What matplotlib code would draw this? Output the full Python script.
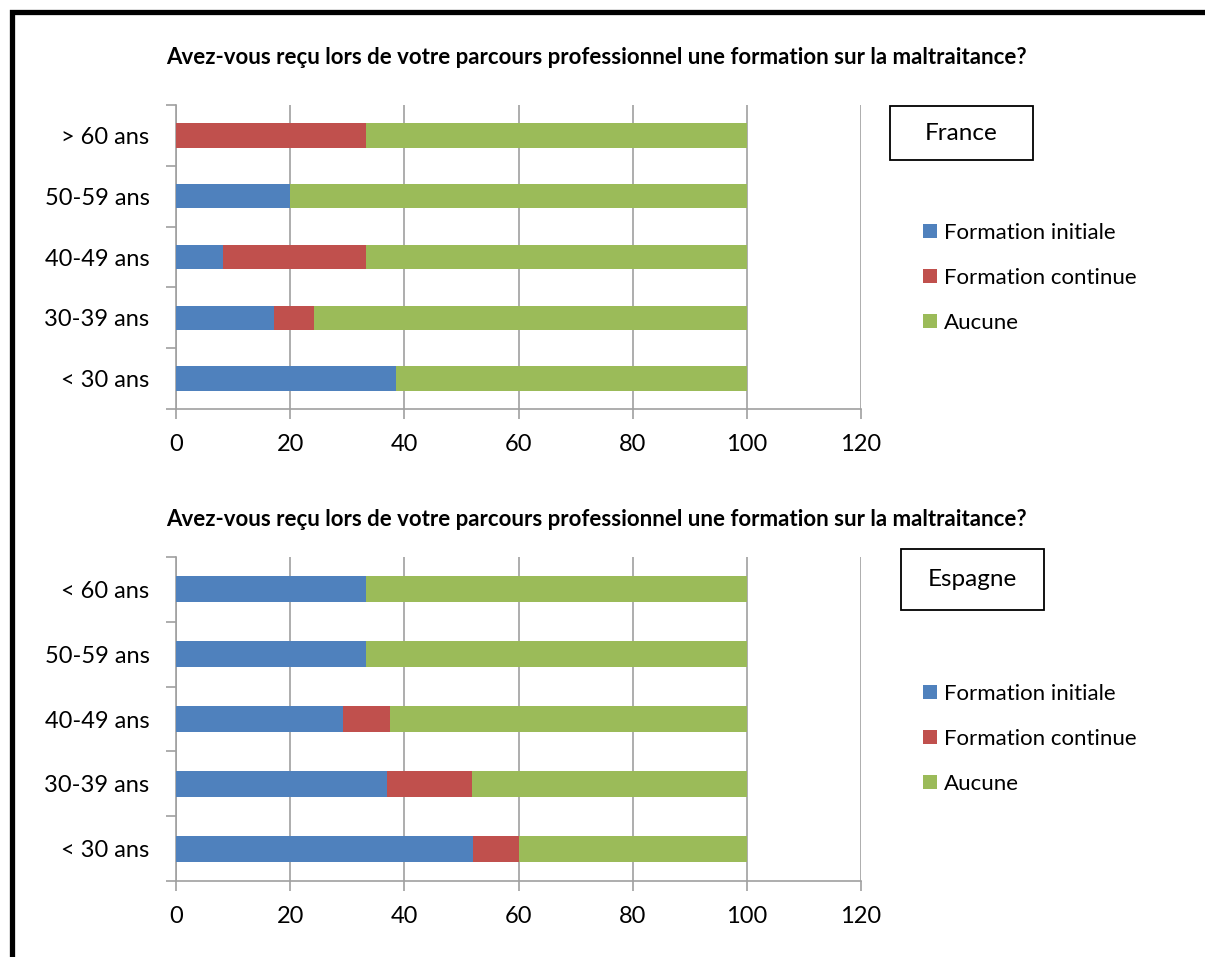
import matplotlib
matplotlib.use("Agg")
import matplotlib.pyplot as plt
from matplotlib.patches import Rectangle
import numpy as np

plt.rcParams["font.family"] = ["Lato", "DejaVu Sans"]

TITLE = "Avez-vous reçu lors de votre parcours professionnel une formation sur la maltraitance?"
SERIES = ["Formation initiale", "Formation continue", "Aucune"]
COLORS = ["#4F81BD", "#C0504D", "#9BBB59"]

# bottom to top
france_ages = ["< 30 ans", "30-39 ans", "40-49 ans", "50-59 ans", "> 60 ans"]
france_initiale = [38.5, 17.2, 8.3, 20.0, 0.0]
france_continue = [0.0, 6.9, 25.0, 0.0, 33.3]
france_aucune = [61.5, 75.9, 66.7, 80.0, 66.7]

espagne_ages = ["< 30 ans", "30-39 ans", "40-49 ans", "50-59 ans", "< 60 ans"]
espagne_initiale = [52.0, 37.0, 29.2, 33.3, 33.3]
espagne_continue = [8.0, 14.8, 8.3, 0.0, 0.0]
espagne_aucune = [40.0, 48.2, 62.5, 66.7, 66.7]

GRAY = "#A0A0A0"
W, H = 1205, 957


def fx(px):
    return px / W


def fy(py):
    return 1 - py / H


def draw_panel(fig, rect, ages, values, title_y, box, legend_y, country):
    ax = fig.add_axes(rect)
    y = np.arange(len(ages))
    left = np.zeros(len(ages))
    for vals, col, lab in zip(values, COLORS, SERIES):
        ax.barh(y, vals, left=left, height=0.4, color=col, label=lab,
                edgecolor="none", zorder=3)
        left = left + np.array(vals)
    ax.set_xlim(0, 120)
    ax.set_ylim(-0.5, len(ages) - 0.5)
    ax.set_xticks(np.arange(0, 121, 20))
    ax.set_yticks(y)
    ax.set_yticklabels(ages)
    ax.set_yticks(np.arange(-0.5, len(ages)), minor=True)
    ax.tick_params(axis="y", which="major", length=0, labelsize=17, pad=19)
    ax.tick_params(axis="y", which="minor", length=7, width=1.2, color=GRAY)
    ax.tick_params(axis="x", length=7, width=1.2, color=GRAY, labelsize=17, pad=11)
    ax.grid(axis="x", color=GRAY, linewidth=1.2, zorder=0)
    for s in ["top", "right"]:
        ax.spines[s].set_visible(False)
    for s in ["left", "bottom"]:
        ax.spines[s].set_color(GRAY)
        ax.spines[s].set_linewidth(1.2)

    fig.text(fx(596), fy(title_y), TITLE, ha="center", va="center",
             fontsize=16, fontweight="bold")

    x0, y0, x1, y1 = box
    fig.patches.append(Rectangle((fx(x0), fy(y1)), fx(x1 - x0), (y1 - y0) / H,
                                 transform=fig.transFigure, fill=False,
                                 edgecolor="black", linewidth=1.3))
    fig.text(fx((x0 + x1) / 2), fy((y0 + y1) / 2), country, ha="center",
             va="center", fontsize=17.5)

    ax.legend(loc="upper left", bbox_to_anchor=(fx(903), fy(legend_y)),
              bbox_transform=fig.transFigure, frameon=False, fontsize=16,
              handlelength=0.63, handleheight=0.63, handletextpad=0.3,
              labelspacing=1.12)
    return ax


fig = plt.figure(figsize=(W / 100, H / 100), dpi=100)

draw_panel(fig, [fx(176), fy(409), fx(861 - 176), (409 - 105) / H],
           france_ages, [france_initiale, france_continue, france_aucune],
           58, (890, 106, 1033, 160), 203, "France")
draw_panel(fig, [fx(176), fy(881), fx(861 - 176), (881 - 557) / H],
           espagne_ages, [espagne_initiale, espagne_continue, espagne_aucune],
           520, (901, 549, 1044, 610), 664, "Espagne")

# outer frame, cut by the image edges on the right and bottom
fig.patches.append(Rectangle((fx(11.5), fy(1000)), fx(1300), 988 / H,
                             transform=fig.transFigure, fill=False,
                             edgecolor="black", linewidth=3.8))

fig.savefig("out.png", dpi=100)
